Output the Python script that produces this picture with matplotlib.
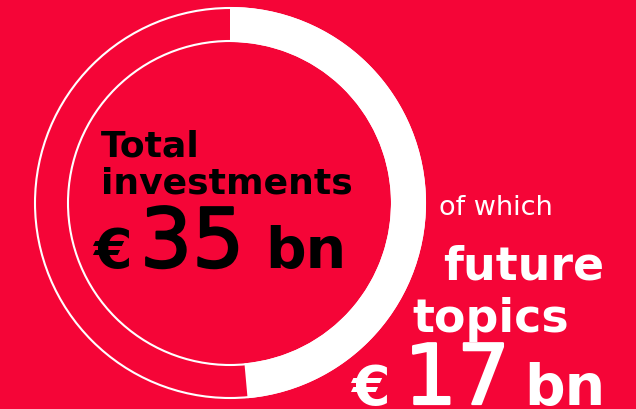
import matplotlib
matplotlib.use("Agg")
import matplotlib.pyplot as plt
from matplotlib.patches import Wedge, Circle
import matplotlib.patheffects as pe

# Data
total_investment = 35   # € bn
future_topics = 17      # € bn
labels_total = ["Total", "investments"]
labels_future = ["of which", "future", "topics"]

RED = "#F50537"
W, H = 636, 410

fig = plt.figure(figsize=(W / 100, H / 100), dpi=100)
fig.patch.set_facecolor(RED)
ax = fig.add_axes([0, 0, 1, 1])
ax.set_xlim(0, W)
ax.set_ylim(0, H)
ax.set_aspect("equal")
ax.axis("off")
ax.set_facecolor(RED)

cx, cy = 230, 206
r_out, r_in = 196, 161

# thin outline circles
ax.add_patch(Circle((cx, cy), r_out - 1, fill=False, ec="white", lw=1.5))
ax.add_patch(Circle((cx, cy), r_in + 1, fill=False, ec="white", lw=1.5))

# share of future topics as white ring segment, clockwise from 12 o'clock
frac = future_topics / total_investment
ax.add_patch(Wedge((cx, cy), r_out, 90 - 360 * frac, 90, width=r_out - r_in,
                   fc="white", ec="none"))

fam = "DejaVu Sans"
thick_k = [pe.withStroke(linewidth=1.6, foreground="black")]
thick_w = [pe.withStroke(linewidth=1.6, foreground="white")]

# left text (black)
ax.text(101, 253, labels_total[0], color="black", fontsize=26, fontweight="bold",
        family=fam, ha="left", va="baseline")
ax.text(101, 216, labels_total[1], color="black", fontsize=26, fontweight="bold",
        family=fam, ha="left", va="baseline")
ax.text(93, 142, "€", color="black", fontsize=40, fontweight="bold",
        family=fam, ha="left", va="baseline")
ax.text(140, 142, f"{total_investment}", color="black", fontsize=59, fontweight="normal",
        family=fam, ha="left", va="baseline", path_effects=thick_k)
ax.text(265, 142, "bn", color="black", fontsize=41, fontweight="bold",
        family=fam, ha="left", va="baseline")

# right text (white)
ax.text(439, 195, labels_future[0], color="white", fontsize=19.5, fontweight="normal",
        family=fam, ha="left", va="baseline")
ax.text(443, 130, labels_future[1], color="white", fontsize=33, fontweight="bold",
        family=fam, ha="left", va="baseline")
ax.text(412, 78, labels_future[2], color="white", fontsize=33, fontweight="bold",
        family=fam, ha="left", va="baseline")
ax.text(351, 5, "€", color="white", fontsize=40, fontweight="bold",
        family=fam, ha="left", va="baseline")
ax.text(404, 5, f"{future_topics}", color="white", fontsize=60, fontweight="normal",
        family=fam, ha="left", va="baseline", path_effects=thick_w)
ax.text(524, 5, "bn", color="white", fontsize=41, fontweight="bold",
        family=fam, ha="left", va="baseline")

fig.savefig("out.png", dpi=100, facecolor=RED)
